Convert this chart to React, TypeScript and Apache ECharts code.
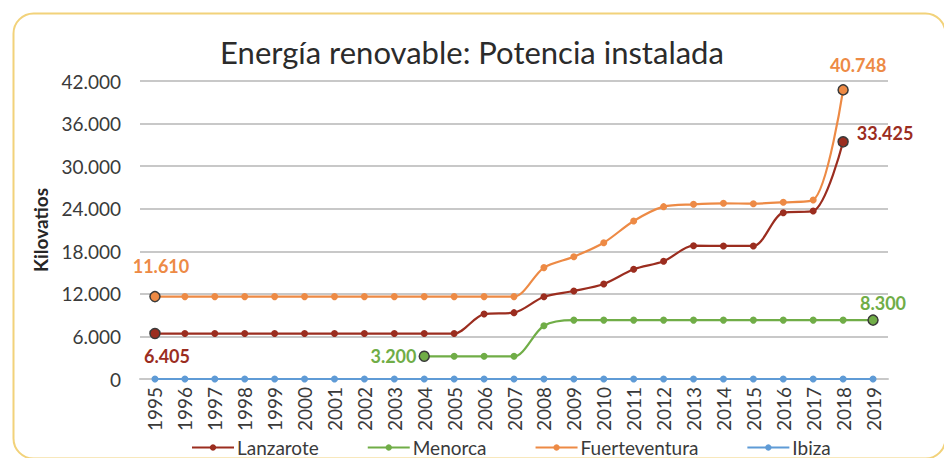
import React, { useEffect, useRef } from "react";
import * as echarts from "echarts";

const years = ["1995","1996","1997","1998","1999","2000","2001","2002","2003","2004","2005","2006","2007","2008","2009","2010","2011","2012","2013","2014","2015","2016","2017","2018","2019"];
const lanzarote = [6405,6405,6405,6405,6405,6405,6405,6405,6405,6405,6405,9150,9350,11600,12400,13390,15460,16590,18790,18750,18750,23440,23680,33425,null];
const menorca = [null,null,null,null,null,null,null,null,null,3200,3200,3200,3200,7510,8300,8300,8300,8300,8300,8300,8300,8300,8300,8300,8300];
const fuerteventura = [11610,11610,11610,11610,11610,11610,11610,11610,11610,11610,11610,11610,11610,15700,17240,19210,22270,24290,24620,24760,24710,24900,25230,40748,null];
const ibiza = [0,0,0,0,0,0,0,0,0,0,0,0,0,0,0,0,0,0,0,0,0,0,0,0,0];
const yTicks = [0, 6000, 12000, 18000, 24000, 30000, 36000, 42000];

const FONT = "Lato, 'Open Sans', sans-serif";
const C_LAN = "#9b2d1f";
const C_MEN = "#70ad47";
const C_FUE = "#ed8a45";
const C_IBI = "#5f9bd6";

const fmt = (v: number) => v.toLocaleString("de-DE");

function withLabels(data: (number | null)[], color: string, labels: Record<number, any>) {
  return data.map((v, i) => {
    if (labels[i] && v !== null) {
      return {
        value: v,
        symbolSize: 10,
        itemStyle: { color, borderColor: "#3a3a3a", borderWidth: 1.5 },
        label: {
          show: true,
          formatter: () => fmt(v),
          color,
          fontFamily: FONT,
          fontWeight: "bold",
          fontSize: 18,
          ...labels[i],
        },
      };
    }
    return v;
  });
}

export default function App() {
  const ref = useRef<HTMLDivElement>(null);
  useEffect(() => {
    if (!ref.current) return;
    const chart = echarts.init(ref.current, null, { renderer: "svg" });
    const lineSeries = (name: string, color: string, data: any[]) => ({
      name,
      type: "line",
      data,
      smooth: 0.3,
      symbol: "circle",
      symbolSize: 7,
      lineStyle: { color, width: 2.2 },
      itemStyle: { color },
      connectNulls: false,
    });
    chart.setOption({
      animation: false,
      backgroundColor: "#ffffff",
      title: {
        text: "Energía renovable: Potencia instalada",
        left: "center",
        top: 31,
        textStyle: { fontFamily: FONT, fontSize: 31, fontWeight: "normal", color: "#2b2b2b" },
      },
      graphic: [
        {
          type: "rect",
          left: 11,
          top: 11,
          shape: { width: 932, height: 445, r: 20 },
          style: { fill: "none", stroke: "#f2d27a", lineWidth: 2 },
          silent: true,
          z: -1,
        },
      ],
      legend: {
        bottom: 1,
        padding: [0, 5, 0, 5],
        left: 186,
        itemWidth: 42,
        itemHeight: 8,
        itemGap: 48,
        textStyle: { fontFamily: FONT, fontSize: 19, color: "#3a3a3a", padding: [0, 0, 0, -2] },
        data: ["Lanzarote", "Menorca", "Fuerteventura", "Ibiza"],
      },
      grid: { left: 140, right: 56, top: 81, bottom: 79, containLabel: false },
      xAxis: {
        type: "category",
        data: years,
        boundaryGap: true,
        axisLine: { show: true, lineStyle: { color: "#c8c8c8", width: 2 } },
        axisTick: { show: false },
        axisLabel: { rotate: 90, fontFamily: FONT, fontSize: 19, color: "#3a3a3a", margin: 8, interval: 0 },
      },
      yAxis: {
        type: "value",
        min: 0,
        max: 42000,
        interval: 6000,
        name: "Kilovatios",
        nameLocation: "middle",
        nameRotate: 90,
        nameGap: 90,
        nameTextStyle: { fontFamily: FONT, fontSize: 19, fontWeight: "bold", color: "#262626" },
        axisLine: { show: false },
        axisTick: { show: false },
        splitLine: { lineStyle: { color: "#c8c8c8", width: 2 } },
        axisLabel: {
          fontFamily: FONT,
          fontSize: 19,
          color: "#3a3a3a",
          margin: 19,
          formatter: (v: number) => (yTicks.includes(v) ? fmt(v) : ""),
        },
      },
      series: [
        lineSeries("Lanzarote", C_LAN, withLabels(lanzarote, C_LAN, {
          0: { position: "bottom", distance: 8, offset: [12, 0] },
          23: { position: "right", distance: 8, offset: [0, -9] },
        })),
        lineSeries("Menorca", C_MEN, withLabels(menorca, C_MEN, {
          9: { position: "left", distance: 2, offset: [0, 0] },
          24: { position: "top", distance: 2, offset: [10, 0] },
        })),
        lineSeries("Fuerteventura", C_FUE, withLabels(fuerteventura, C_FUE, {
          0: { position: "top", distance: 16, offset: [6, 0] },
          23: { position: "top", distance: 10, offset: [15, 0] },
        })),
        lineSeries("Ibiza", C_IBI, ibiza),
      ],
    });
    return () => chart.dispose();
  }, []);
  return <div ref={ref} style={{ width: 944, height: 458, position: "absolute", left: 0, top: 0 }} />;
}
